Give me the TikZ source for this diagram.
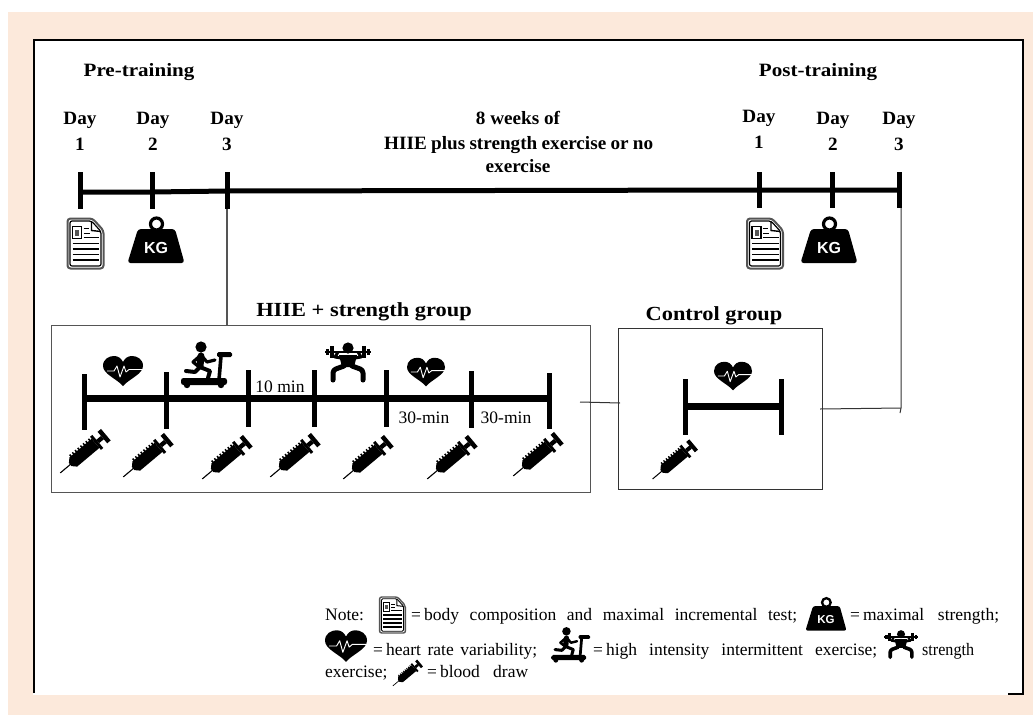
\documentclass[tikz,border=0pt]{standalone}
\usepackage{fontspec}
\setmainfont{Liberation Serif}
\newfontfamily\wsans{Liberation Sans}
\newfontfamily\hfont[FakeStretch=1.12]{Liberation Serif}
\newfontfamily\hfontb[FakeStretch=1.02]{Liberation Serif}
\newfontfamily\cfont[FakeStretch=.92]{Liberation Serif}
\definecolor{peach}{HTML}{FCE9DB}
\definecolor{grline}{HTML}{555555}
\newcommand{\pxfont}[1]{\fontsize{#1}{#1}\selectfont}
\newcommand{\fitw}[2]{\makebox[#1pt][s]{#2}}
\newcommand{\eqs}{=\hspace{3pt}}
\tikzset{
  x=1pt,y=-1pt,
  lwscale/.store in=\lws, lwscale=1,
  hd/.style={inner sep=0pt,font=\hfont\bfseries\pxfont{18.8}},
  hdb/.style={inner sep=0pt,font=\hfontb\bfseries\pxfont{18.8}},
  grp/.style={inner sep=0pt,font=\hfont\bfseries\pxfont{20}},
  dur/.style={inner sep=0pt,font=\pxfont{17.5}},
  leg/.style={inner sep=0pt,anchor=base west,font=\pxfont{17.5}},
  tltick/.style={line width=5pt,black},
  tlmain/.style={line width=5pt,black},
  grmain/.style={line width=7pt,black},
  grtick/.style={line width=5pt,black},
  conn/.style={line width=1pt,black!80},
  box/.style={draw=grline,line width=1.2pt,fill=white},
  heart/.pic={
    \fill[black] (0,15) .. controls (-6,8) and (-20,3) .. (-20,-5)
      .. controls (-20,-12) and (-14,-15) .. (-9,-15)
      .. controls (-5,-15) and (-2,-13) .. (0,-9)
      .. controls (2,-13) and (5,-15) .. (9,-15)
      .. controls (14,-15) and (20,-12) .. (20,-5)
      .. controls (20,3) and (6,8) .. (0,15) -- cycle;
    \draw[white,line width=\lws*0.9pt,line join=round] (-16,0) -- (-9,0) -- (-6,-5) -- (-3,6) -- (1,-5) -- (3,1) -- (6,-1.5) -- (20,-1.5);
  },
  doc/.pic={
    \draw[grline,fill=white,line width=\lws*2pt,rounded corners=\lws*3pt] (-18,-25) -- (7,-25) -- (18,-13) -- (18,25) -- (-18,25) -- cycle;
    \draw[black,line width=\lws*1.2pt,rounded corners=\lws*2pt] (-15.5,-22.5) -- (6,-22.5) -- (15.5,-12) -- (15.5,22.5) -- (-15.5,22.5) -- cycle;
    \draw[black,line width=\lws*1.4pt] (6,-22.5) -- (6,-13) -- (15.5,-12);
    \draw[black,line width=\lws*1.2pt] (-13,-17) rectangle (-4,-5);
    \fill[grline] (-10.5,-14) rectangle (-6.5,-8);
    \draw[black,line width=\lws*1.9pt] (-2,-15) -- (3,-15) (-2,-10) -- (4,-10) (-2,-6) -- (13.5,-6)
      (-13,0) -- (13.5,0) (-13,5.5) -- (13.5,5.5) (-13,11) -- (13.5,11) (-13,16.5) -- (13.5,16.5);
  },
  weight/.pic={
    \draw[black,line width=\lws*3.2pt] (0.5,-16) circle (6);
    \fill[black,rounded corners=\lws*3pt] (-18,-11) -- (19,-11) -- (28.5,23) -- (-28.5,23) -- cycle;
    \node[transform shape,inner sep=0pt,text=white,font=\wsans\bfseries\pxfont{16}] at (0,7.5) {KG};
  },
  runner/.pic={
    \fill[black] (-6,-18) circle (5.6);
    \draw[black,line width=\lws*7pt,line cap=round] (-6,-9) -- (-7,1);
    \draw[black,line width=\lws*3.2pt,line cap=round,line join=round] (-6,-10) -- (-14,-3) -- (-9,1) (-6,-10) -- (0,-3) -- (8,-5);
    \draw[black,line width=\lws*4pt,line cap=round,line join=round] (-7,2) -- (3,6) -- (1,13) (-7,2) -- (-12,7) -- (-21,6);
    \fill[black,rounded corners=\lws*1.5pt] (10,-13) rectangle (25,-8);
    \draw[black,line width=\lws*3.6pt] (14,-9) -- (12,15);
    \fill[black,rounded corners=\lws*2.5pt] (-26,13) rectangle (20,20);
    \fill[black] (-20,20) circle (3.2) (14,20) circle (3.2);
  },
  lifter/.pic={
    \fill[black] (0,-15) circle (5.6);
    \draw[black,line width=\lws*2.2pt] (-23,-11) -- (23,-11);
    \draw[black,line width=\lws*3.5pt] (-20.5,-14) -- (-20.5,-8) (-16,-17) -- (-16,-5) (20.5,-14) -- (20.5,-8) (16,-17) -- (16,-5);
    \draw[black,line width=\lws*3pt,line join=round] (-10,-11) -- (-13,-6) -- (-7,-5) (10,-11) -- (13,-6) -- (7,-5);
    \fill[black] (-9,-8) -- (9,-8) -- (6,4) -- (-6,4) -- cycle;
    \draw[black,line width=\lws*5pt,line cap=round,line join=round,rounded corners=\lws*3pt] (-4,3) -- (-15,7) -- (-15,17) (4,3) -- (15,7) -- (15,17);
  },
  syringe/.pic={
    \begin{scope}[rotate=40]
      \draw[black,line width=\lws*1.1pt] (-31,0) -- (-15,0);
      \fill[black] (-18,-2) -- (-14,-6) -- (15,-6) -- (15,6) -- (-14,6) -- (-18,2) -- cycle;
      \foreach \t in {-12,-8.5,...,13} \draw[black,line width=\lws*1.5pt] (\t,-8) -- (\t,-5);
      \fill[black] (15,-8.5) rectangle (18,8.5);
      \fill[black] (18,-2.2) rectangle (24,2.2);
      \fill[black] (24,-7.5) rectangle (28.5,7.5);
    \end{scope}
  },
}
\begin{document}
\begin{tikzpicture}
\useasboundingbox (0,0) rectangle (1033,715);
\fill[white] (0,0) rectangle (1033,715);
\fill[peach] (8,12) rectangle (1033,715);
\fill[white] (33,39) rectangle (1023,695);
\coordinate (fa) at (34,693);
\coordinate (fb) at (34,40);
\coordinate (fc) at (1023,40);
\coordinate (fd) at (1023,694);
\coordinate (fe) at (1008,694);
\draw[black,line width=2pt] (fa) -- (fb) -- (fc) -- (fd) -- (fe);

% groups' boxes
\node[box,inner sep=0pt,anchor=north west,minimum width=539pt,minimum height=167pt] (hiie) at (51,325) {};
\node[box,draw=black!80,inner sep=0pt,anchor=north west,minimum width=204pt,minimum height=161pt] (ctrl) at (618,328) {};

% top timeline
\foreach \n/\x/\m/\a/\b in {a1/80/192/172/209,a2/152/192/172/209,a3/227/191/172/209,b1/759/190/172/208,b2/832/190/172/208,b3/899/190/172/208}{
  \coordinate (\n-t) at (\x,\a);
  \coordinate (\n-m) at (\x,\m);
  \coordinate (\n-b) at (\x,\b);
  \draw[tltick] (\n-t) -- (\n-b);
}
\draw[tlmain] (a1-m) -- (a2-m) -- (a3-m) -- (b1-m) -- (b2-m) -- (b3-m);

% HIIE timeline
\foreach \n/\x/\a/\b in {g1/84/374/430,g2/166/372/429,g3/248/370/427,g4/314/370/427,g5/386/370/427,g6/471/371/428,g7/549/373/429}{
  \coordinate (\n-t) at (\x,\a);
  \coordinate (\n-m) at (\x,398);
  \coordinate (\n-b) at (\x,\b);
  \draw[grtick] (\n-t) -- (\n-b);
}
\draw[grmain] (g1-m) -- (g2-m) -- (g3-m) -- (g4-m) -- (g5-m) -- (g6-m) -- (g7-m);

% control timeline
\foreach \n/\x in {c1/685,c2/781}{
  \coordinate (\n-t) at (\x,379);
  \coordinate (\n-m) at (\x,406);
  \coordinate (\n-b) at (\x,435);
  \draw[grtick] (\n-t) -- (\n-b);
}
\draw[grmain] (c1-m) -- (c2-m);

% connectors
\coordinate (ha) at (227,325);
\draw[line width=1.2pt,grline] (a3-b) -- (ha);
\coordinate (bj) at (901,408);
\coordinate (bk) at (900,413);
\coordinate (bc) at (820,409);
\coordinate (bb) at (901,208);
\coordinate (bbt) at (901,190);
\draw[line width=2pt,black] (bbt) -- (bb);
\draw[conn] (bb) -- (bj) -- (bk);
\draw[conn] (bc) -- (bj);
\coordinate (ca) at (580,402);
\coordinate (cb) at (620,403);
\draw[conn] (ca) -- (cb);

% icons
\pic (docA) at (85.5,243.5) {doc};
\pic (docB) at (765,243.5) {doc};
\pic (kgA) at (156,240) {weight};
\pic (kgB) at (829,240) {weight};
\pic (hrA) at (123,371) {heart};
\pic (hrB) [scale=.95] at (426,372) {heart};
\pic (hrC) [scale=.95] at (733,376) {heart};
\pic (run) at (207,365) {runner};
\pic (lift) at (348,363) {lifter};
\foreach \n/\x/\y in {s1/84/453,s2/147/457,s3/226/459,s4/294/457,s5/367/459,s6/451/459,s7/537/456}{
  \pic (\n) at (\x,\y) {syringe};
}
\pic (s8) [scale=.9,lwscale=.9] at (674,461) {syringe};

% top text
\node[hd] (pre) at (139,72.5) {Pre-training};
\node[hd] (post) at (818,72.5) {Post-training};
\foreach \n/\x/\ya/\yb/\d in {da1/80/120.5/144/1,da2/153/120.5/144/2,da3/227/120.5/144/3,db1/759/118.5/142/1,db2/833/120.5/144/2,db3/899/120.5/144/3}{
  \node[hdb] (\n-d) at (\x,\ya) {Day};
  \node[hdb] (\n-n) at (\x,\yb) {\d};
}
\node[hdb] (wk1) at (518,118) {8 weeks of};
\node[hdb,anchor=west] (wk2) at (384,145) {\fitw{269}{HIIE plus strength exercise or no}};
\node[hdb] (wk3) at (518,166) {exercise};

\node[grp] (hiiet) at (364,312) {HIIE + strength group};
\node[grp] (ctrlt) at (714,316) {Control group};
\node[dur] (t10) at (280,387) {10 min};
\node[dur] (t30a) at (424,418) {30-min};
\node[dur] (t30b) at (506,418) {30-min};

% legend
\node[leg] (n1) at (325,620.5) {Note:};
\pic (ldoc) [scale=.72,lwscale=.72] at (392.5,615) {doc};
\node[leg] (n2) at (411,620.5) {\fitw{386}{\eqs body composition and maximal incremental test;}};
\pic (lkg) [scale=.72,lwscale=.72] at (826,614) {weight};
\node[leg] (n3) at (850,620.5) {\fitw{149}{\eqs maximal strength;}};
\pic (lhr) [scale=1.05,lwscale=1.05] at (346,646) {heart};
\node[leg] (n4) at (373,655) {\fitw{164}{\eqs heart rate variability;}};
\pic (lrun) [scale=.76,lwscale=.76] at (571,645) {runner};
\node[leg] (n5) at (593,655) {\fitw{284}{\eqs high intensity intermittent exercise;}};
\pic (llift) [scale=.72,lwscale=.72] at (901,645) {lifter};
\node[leg,font=\cfont\pxfont{17.5}] (n6) at (922,655) {strength};
\node[leg] (n7) at (325,677) {exercise;};
\pic (lsy) [scale=.6,lwscale=.6] at (407,674) {syringe};
\node[leg] (n8) at (427,677) {\fitw{101}{\eqs blood draw}};
\end{tikzpicture}
\end{document}
